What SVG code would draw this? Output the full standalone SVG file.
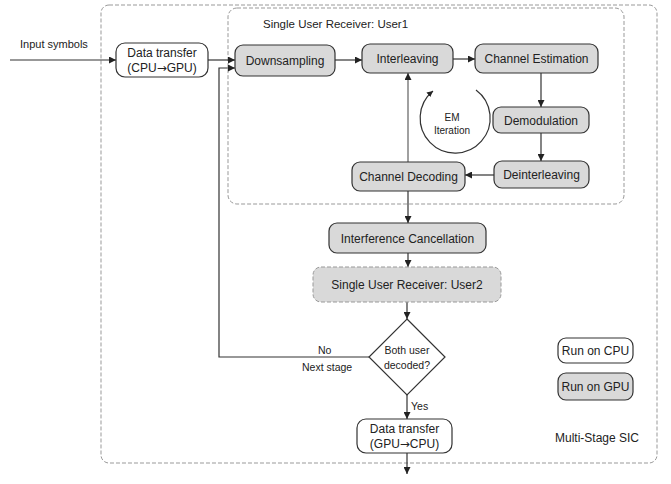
<svg xmlns="http://www.w3.org/2000/svg" width="671" height="484" viewBox="0 0 671 484">
<style>
text{font-family:"Liberation Sans",Arial,sans-serif;fill:#222;}
.t{font-size:12px;text-anchor:middle;}
.s{font-size:10.5px;}
.em{font-size:10px;text-anchor:middle;}
.arr{font-family:"DejaVu Sans",sans-serif;font-size:12px;}
.cpu{fill:#fff;stroke:#333;stroke-width:1.2;}
.gpu{fill:#d9d9d9;stroke:#333;stroke-width:1.2;}
.frame{fill:none;stroke:#999;stroke-width:1;stroke-dasharray:4 2;}
.ln{fill:none;stroke:#333;stroke-width:1.2;}
.lg{fill:none;stroke:#808080;stroke-width:1.5;}
</style>
<defs>
<marker id="ah" viewBox="0 0 10 10" refX="10" refY="5" markerWidth="7" markerHeight="7" markerUnits="userSpaceOnUse" orient="auto">
<path d="M0,0 L10,5 L0,10 z" fill="#222"/>
</marker>
<marker id="ahs" viewBox="0 0 10 10" refX="10" refY="5" markerWidth="6" markerHeight="6" markerUnits="userSpaceOnUse" orient="auto">
<path d="M0,0 L10,5 L0,10 z" fill="#222"/>
</marker>
</defs>

<g id="frames">
<rect class="frame" x="101" y="5" width="556" height="458" rx="8"/>
<rect class="frame" x="228" y="8" width="396" height="196" rx="9"/>
<text class="s" x="263" y="28" style="font-size:11.5px">Single User Receiver: User1</text>
<text class="s" x="555" y="442" style="font-size:12px">Multi-Stage SIC</text>
</g>

<g id="connectors">
<line class="ln" x1="10" y1="60" x2="116" y2="60" marker-end="url(#ah)"/>
<line class="ln" x1="208" y1="60" x2="235" y2="60" marker-end="url(#ah)"/>
<line class="ln" x1="335" y1="60" x2="362" y2="60" marker-end="url(#ah)"/>
<line class="ln" x1="453" y1="59" x2="475" y2="59" marker-end="url(#ah)"/>
<line class="ln" x1="541" y1="73" x2="541" y2="107" marker-end="url(#ah)"/>
<line class="ln" x1="541" y1="133" x2="541" y2="161" marker-end="url(#ah)"/>
<line class="ln" x1="494" y1="175" x2="465" y2="175" marker-end="url(#ah)"/>
<line class="lg" x1="408" y1="162" x2="408" y2="73" marker-end="url(#ah)"/>
<line class="ln" x1="408" y1="191" x2="408" y2="223" marker-end="url(#ah)"/>
<line class="ln" x1="408" y1="253" x2="408" y2="267" marker-end="url(#ah)"/>
<line class="ln" x1="407" y1="302" x2="407" y2="319" marker-end="url(#ah)"/>
<polyline class="ln" points="369,357 219,357 219,68 235,68" marker-end="url(#ah)"/>
<line class="ln" x1="407" y1="395" x2="407" y2="419" marker-end="url(#ah)"/>
<line class="ln" x1="407" y1="453" x2="407" y2="474" marker-end="url(#ah)"/>
<path class="ln" d="M476,90 A35,35 0 1 1 433,91" marker-end="url(#ahs)"/>
<text class="s" x="20" y="48" style="font-size:11px">Input symbols</text>
<text class="s" x="318" y="354">No</text>
<text class="s" x="302" y="371">Next stage</text>
<text class="s" x="411" y="410">Yes</text>
<text class="em" x="452" y="121">EM</text>
<text class="em" x="452" y="134">Iteration</text>
</g>

<g id="dt1">
<rect class="cpu" x="116" y="43" width="92" height="34" rx="9"/>
<text class="t" x="162" y="57">Data transfer</text>
<text class="t" x="162" y="72">(CPU<tspan class="arr">→</tspan>GPU)</text>
</g>
<g id="downsampling">
<rect class="gpu" x="235" y="45" width="100" height="31" rx="8"/>
<text class="t" x="285" y="65">Downsampling</text>
</g>
<g id="interleaving">
<rect class="gpu" x="362" y="44" width="91" height="29" rx="8"/>
<text class="t" x="407.5" y="63">Interleaving</text>
</g>
<g id="chest">
<rect class="gpu" x="475" y="44" width="123" height="29" rx="8"/>
<text class="t" x="536.5" y="63">Channel Estimation</text>
</g>
<g id="demod">
<rect class="gpu" x="493" y="107" width="96" height="26" rx="8"/>
<text class="t" x="541" y="124.5">Demodulation</text>
</g>
<g id="deint">
<rect class="gpu" x="494" y="161" width="95" height="27" rx="8"/>
<text class="t" x="541.5" y="179">Deinterleaving</text>
</g>
<g id="chdec">
<rect class="gpu" x="352" y="162" width="113" height="29" rx="8"/>
<text class="t" x="408.5" y="181">Channel Decoding</text>
</g>
<g id="ic">
<rect class="gpu" x="329" y="223" width="157" height="30" rx="8"/>
<text class="t" x="407.5" y="242.5">Interference Cancellation</text>
</g>
<g id="user2">
<rect class="gpu" x="313" y="267" width="188" height="35" rx="8" style="stroke:#999;stroke-width:1;stroke-dasharray:4 2"/>
<text class="t" x="407" y="289">Single User Receiver: User2</text>
</g>
<g id="decision">
<polygon points="407,319 445,357 407,395 369,357" fill="#fff" stroke="#333" stroke-width="1.2"/>
<text class="s" x="407" y="354" text-anchor="middle">Both user</text>
<text class="s" x="407" y="369" text-anchor="middle">decoded?</text>
</g>
<g id="dt2">
<rect class="cpu" x="357" y="419" width="95" height="34" rx="9"/>
<text class="t" x="404.5" y="433">Data transfer</text>
<text class="t" x="404.5" y="448">(GPU<tspan class="arr">→</tspan>CPU)</text>
</g>
<g id="legend-cpu">
<rect class="cpu" x="558" y="338" width="75" height="25" rx="8"/>
<text class="t" x="595.5" y="355">Run on CPU</text>
</g>
<g id="legend-gpu">
<rect class="gpu" x="558" y="373" width="75" height="27" rx="8"/>
<text class="t" x="595.5" y="391">Run on GPU</text>
</g>
</svg>
